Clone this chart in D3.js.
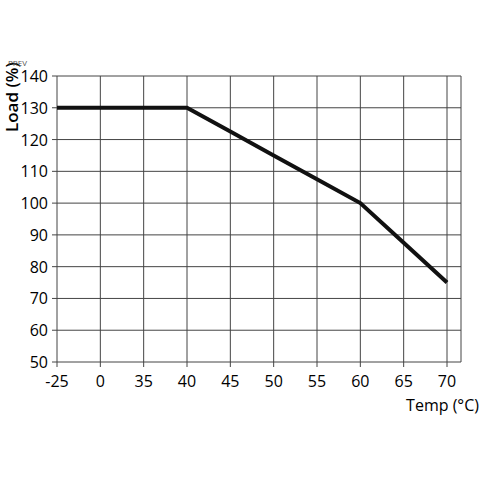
<!DOCTYPE html>
<html><head><meta charset="utf-8">
<script src="https://cdn.jsdelivr.net/npm/d3@7"></script>
<style>body{margin:0;background:#fff}text{font-family:"Open Sans",sans-serif}</style>
</head><body><div id="chart"></div>
<script>
// tick categories along x (not evenly valued, evenly spaced)
const temps = ["-25", "0", "35", "40", "45", "50", "55", "60", "65", "70"];
const loads = [130, 130, 130, 130, 122.5, 115, 107.5, 100, 87.5, 75];
const yTicks = [50, 60, 70, 80, 90, 100, 110, 120, 130, 140];

const W = 480, H = 480;
const svg = d3.select("#chart").append("svg").attr("width", W).attr("height", H);

const x = d3.scalePoint().domain(temps).range([57, 447]);
const y = d3.scaleLinear().domain([50, 140]).range([362, 76]);
const right = 461;

const grid = svg.append("g").attr("stroke", "#444").attr("stroke-width", 1);
grid.selectAll(".v").data(temps).join("line")
    .attr("x1", d => x(d)).attr("x2", d => x(d)).attr("y1", y(140)).attr("y2", y(50) + 5);
grid.append("line").attr("x1", right).attr("x2", right).attr("y1", y(140)).attr("y2", y(50));
grid.selectAll(".h").data(yTicks).join("line")
    .attr("x1", x("-25") - 5).attr("x2", right).attr("y1", d => y(d)).attr("y2", d => y(d));

svg.append("g").selectAll("text").data(temps).join("text")
    .attr("x", d => x(d)).attr("y", 387).attr("text-anchor", "middle")
    .attr("font-size", 16).text(d => d);
svg.append("g").selectAll("text").data(yTicks).join("text")
    .attr("x", 48).attr("y", d => y(d) + 6).attr("text-anchor", "end")
    .attr("font-size", 16).text(d => d);

const line = d3.line().x((d, i) => x(temps[i])).y(d => y(d));
svg.append("path").datum(loads).attr("d", line).attr("fill", "none")
    .attr("stroke", "#111").attr("stroke-width", 4);

svg.append("text").attr("transform", "translate(18,132) rotate(-90)")
    .attr("font-size", 17).attr("font-weight", 600).text("Load (%)");
svg.append("text").attr("x", 8).attr("y", 66).attr("font-size", 8).attr("fill", "#555").text("PREV");

svg.append("text").attr("x", 479).attr("y", 411).attr("text-anchor", "end")
    .attr("font-size", 16).text("Temp (\u00B0C)");
</script></body></html>
